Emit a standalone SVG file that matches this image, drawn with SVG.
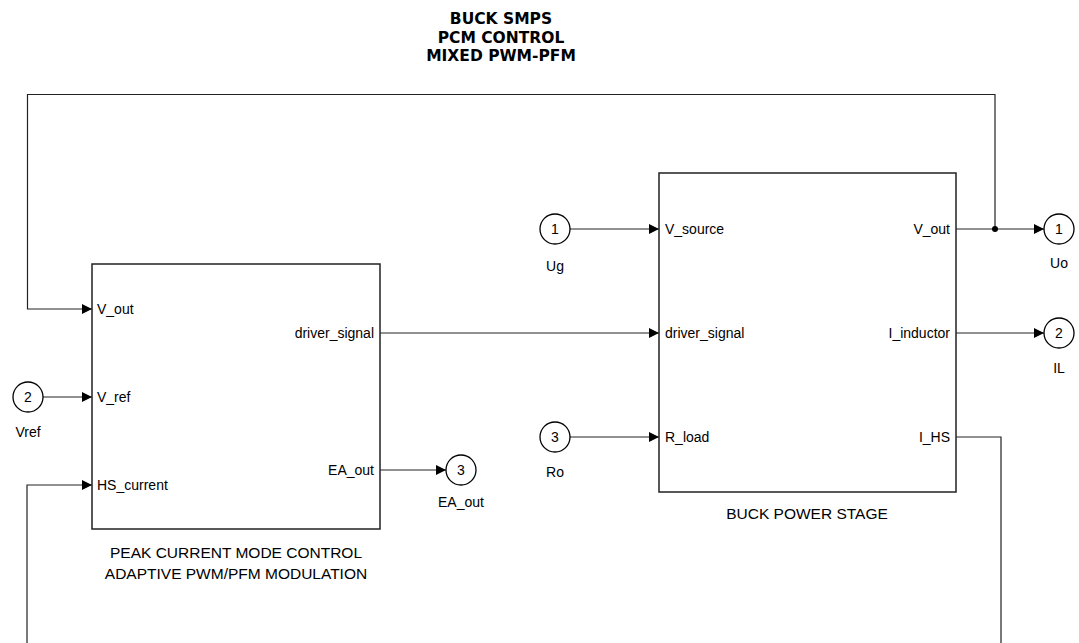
<svg xmlns="http://www.w3.org/2000/svg" width="1079" height="643" viewBox="0 0 1079 643">
<style>
text{font-family:"Liberation Sans",Arial,sans-serif;fill:#000}
.title{font-family:"DejaVu Sans",sans-serif;font-weight:bold;font-size:15.5px;text-anchor:middle}
.port{font-size:14px}
.lbl{font-size:14px;text-anchor:middle}
.name{font-size:15.5px;text-anchor:middle}
.blk{fill:#fff;stroke:#222;stroke-width:1.5}
.io{fill:#fff;stroke:#000;stroke-width:1.3}
.wire{fill:none;stroke:#222;stroke-width:1.2}
</style>
<defs>
<marker id="arr" viewBox="0 0 10 10" refX="10" refY="5" markerWidth="10" markerHeight="10" markerUnits="userSpaceOnUse" orient="auto">
<path d="M0,0 L10,5 L0,10 Z" fill="#000"/>
</marker>
</defs>
<rect width="1079" height="643" fill="#fff"/>
<g id="title">
<text class="title" x="501" y="24">BUCK SMPS</text>
<text class="title" x="501" y="42.5">PCM CONTROL</text>
<text class="title" x="501" y="61">MIXED PWM-PFM</text>
</g>
<g id="connectors">
<path class="wire" d="M995,229 V94.5 H27.5 V309 H92" marker-end="url(#arr)"/>
<path class="wire" d="M43,397 H92" marker-end="url(#arr)"/>
<path class="wire" d="M27,660 V485 H92" marker-end="url(#arr)"/>
<path class="wire" d="M380,333 H659" marker-end="url(#arr)"/>
<path class="wire" d="M380,470 H446" marker-end="url(#arr)"/>
<path class="wire" d="M570,229 H659" marker-end="url(#arr)"/>
<path class="wire" d="M570,437 H659" marker-end="url(#arr)"/>
<path class="wire" d="M956,229 H1044" marker-end="url(#arr)"/>
<path class="wire" d="M956,333 H1044" marker-end="url(#arr)"/>
<path class="wire" d="M956,437 H1001 V660"/>
<circle cx="995" cy="229" r="3" fill="#000"/>
</g>
<g id="pcm">
<rect class="blk" x="92" y="264" width="288" height="265"/>
<text class="port" x="97" y="314">V_out</text>
<text class="port" x="97" y="402">V_ref</text>
<text class="port" x="97" y="490">HS_current</text>
<text class="port" x="374" y="338" text-anchor="end">driver_signal</text>
<text class="port" x="374" y="475" text-anchor="end">EA_out</text>
<text class="name" x="236" y="558">PEAK CURRENT MODE CONTROL</text>
<text class="name" x="236" y="579">ADAPTIVE PWM/PFM MODULATION</text>
</g>
<g id="buck">
<rect class="blk" x="659" y="173" width="297" height="319"/>
<text class="port" x="665" y="234">V_source</text>
<text class="port" x="665" y="338">driver_signal</text>
<text class="port" x="665" y="442">R_load</text>
<text class="port" x="950" y="234" text-anchor="end">V_out</text>
<text class="port" x="950" y="338" text-anchor="end">I_inductor</text>
<text class="port" x="950" y="442" text-anchor="end">I_HS</text>
<text class="name" x="807" y="519">BUCK POWER STAGE</text>
</g>
<g id="in_vref">
<circle class="io" cx="28" cy="397" r="15"/>
<text class="lbl" x="28" y="402">2</text>
<text class="lbl" x="28" y="437">Vref</text>
</g>
<g id="in_ug">
<circle class="io" cx="555" cy="229" r="15"/>
<text class="lbl" x="555" y="234">1</text>
<text class="lbl" x="555" y="271">Ug</text>
</g>
<g id="in_ro">
<circle class="io" cx="555" cy="437" r="15"/>
<text class="lbl" x="555" y="442">3</text>
<text class="lbl" x="555" y="477">Ro</text>
</g>
<g id="out_ea">
<circle class="io" cx="461" cy="470" r="15"/>
<text class="lbl" x="461" y="475">3</text>
<text class="lbl" x="461" y="507">EA_out</text>
</g>
<g id="out_uo">
<circle class="io" cx="1059" cy="229" r="15"/>
<text class="lbl" x="1059" y="234">1</text>
<text class="lbl" x="1059" y="268">Uo</text>
</g>
<g id="out_il">
<circle class="io" cx="1059" cy="333" r="15"/>
<text class="lbl" x="1059" y="338">2</text>
<text class="lbl" x="1059" y="373">IL</text>
</g>
</svg>
